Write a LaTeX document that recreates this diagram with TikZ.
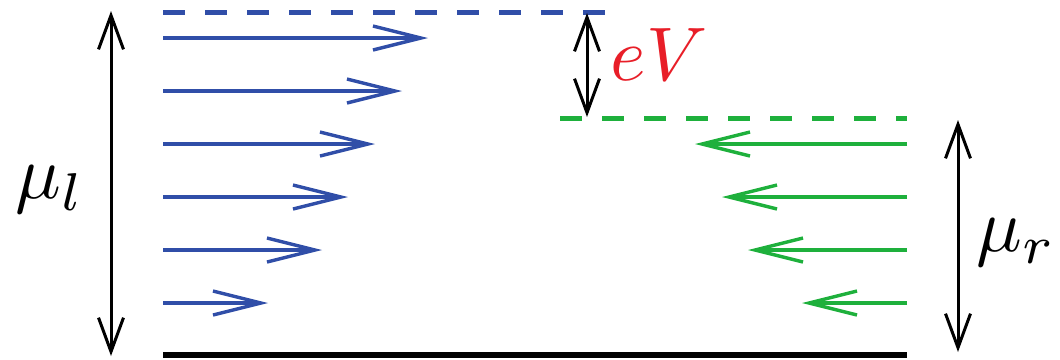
\documentclass[tikz,border=0pt]{standalone}
\usepackage{graphicx}
\usetikzlibrary{arrows.meta}
\definecolor{lblue}{RGB}{48,78,168}
\definecolor{lgreen}{RGB}{30,176,60}
\definecolor{lred}{RGB}{232,30,40}
\newcommand{\biglbl}[1]{\scalebox{3.8}{\normalsize $#1$}}
\begin{document}
\begin{tikzpicture}[x=0.5pt,y=-0.5pt,
  flowarrow/.style={line width=1.7pt,-{Straight Barb[length=24pt,width=12pt,line width=1.7pt]}},
  blueflow/.style={flowarrow,lblue},
  greenflow/.style={flowarrow,lgreen},
  levelline/.style={line width=2.5pt,dash pattern=on 11pt off 10pt},
  spanarrow/.style={line width=1.5pt,black,{Straight Barb[length=17pt,width=12.5pt,line width=1.5pt]}-{Straight Barb[length=17pt,width=12.5pt,line width=1.5pt]}},
  biglabel/.style={inner sep=0pt}]
\useasboundingbox (0,0) rectangle (1060,359);
% level coordinates
\coordinate (bl) at (163,12);
\coordinate (br) at (608,12);
\coordinate (gl) at (560,118);
\coordinate (gr) at (907,118);
\coordinate (kl) at (163,355);
\coordinate (kr) at (907,355);
% levels
\draw[levelline,lblue] (bl) -- (br);
\draw[levelline,lgreen] (gl) -- (gr);
\draw[line width=2.6pt,black] (kl) -- (kr);
% blue arrows
\foreach \y/\e [count=\i] in {38/428,91/402,144/375,197/348,250/322,303/268}{
  \coordinate (bs\i) at (163,\y);
  \coordinate (be\i) at (\e,\y);
  \draw[blueflow] (bs\i) -- (be\i);
}
% green arrows
\foreach \y/\e [count=\i] in {144/695,197/722,250/748,303/802}{
  \coordinate (gs\i) at (907,\y);
  \coordinate (ge\i) at (\e,\y);
  \draw[greenflow] (gs\i) -- (ge\i);
}
% span arrows
\coordinate (lt) at (111,11);
\coordinate (lb) at (111,356);
\draw[spanarrow] (lt) -- (lb);
\coordinate (rt) at (958,120);
\coordinate (rb) at (958,352);
\draw[spanarrow] (rt) -- (rb);
\coordinate (et) at (587,13);
\coordinate (eb) at (587,117);
\draw[spanarrow] (et) -- (eb);
% labels
\node[biglabel] (mul) at (50,190) {\biglbl{\mu_l}};
\node[biglabel] (mur) at (1016,243) {\biglbl{\mu_r}};
\node[biglabel,text=lred] (ev) at (659,55) {\biglbl{eV}};
\end{tikzpicture}
\end{document}
